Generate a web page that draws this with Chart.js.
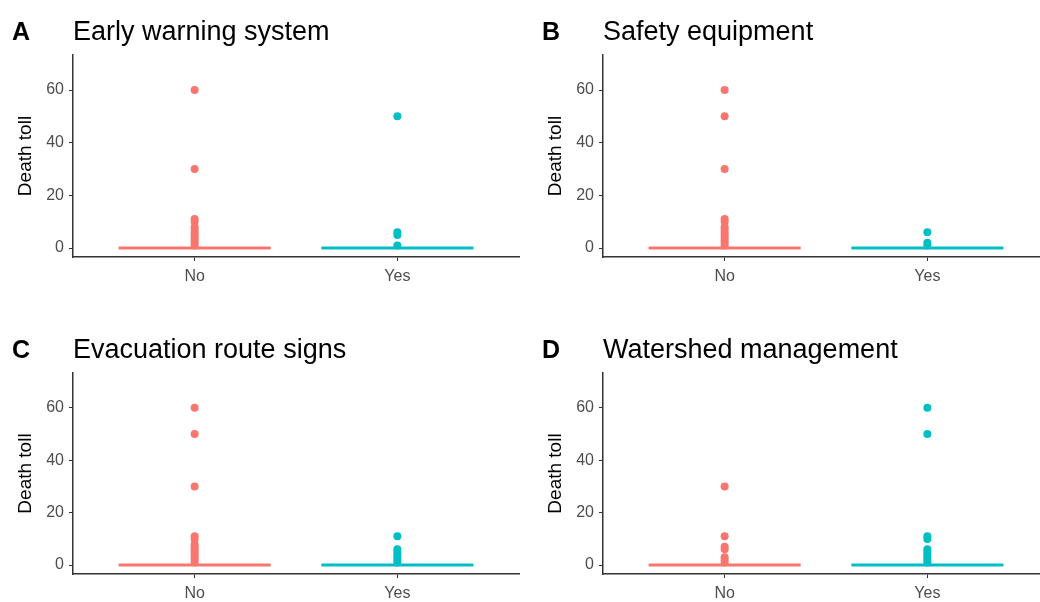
<!DOCTYPE html>
<html>
<head>
<meta charset="utf-8">
<script src="https://cdn.jsdelivr.net/npm/chart.js@4.4.1/dist/chart.umd.min.js"></script>
<style>
  html, body { margin:0; padding:0; background:#fff; }
  body { width:1040px; height:602px; position:relative; overflow:hidden; font-family:"Liberation Sans", Arial, sans-serif; }
  .panel { position:absolute; }
  .letter { position:absolute; font-weight:bold; font-size:25px; line-height:30px; color:#000; }
  .ptitle { position:absolute; font-size:27px; line-height:30px; color:#000; white-space:nowrap; }
  canvas { position:absolute; left:0; top:0; }
</style>
</head>
<body>
<script>
// ---- data ----
const categories = ["No", "Yes"];
const panelLetters = ["A", "B", "C", "D"];
const panelTitles = ["Early warning system", "Safety equipment", "Evacuation route signs", "Watershed management"];
const yTicks = [0, 20, 40, 60];
const yLabel = "Death toll";

// box (median / quartiles collapse to 0 in every group)
const medianNo  = [0, 0, 0, 0];
const medianYes = [0, 0, 0, 0];

// outlier points per panel
const earlyWarningNo  = [60, 30, 11, 10, 8, 7, 6, 5, 4, 3, 2, 1];
const earlyWarningYes = [50, 6, 5, 1];
const safetyEquipNo   = [60, 50, 30, 11, 10, 8, 7, 6, 5, 4, 3, 2, 1];
const safetyEquipYes  = [6, 2, 1];
const evacSignsNo     = [60, 50, 30, 11, 10, 8, 7, 6, 5, 4, 3, 2, 1];
const evacSignsYes    = [11, 6, 5, 4, 3, 2, 1];
const watershedNo     = [30, 11, 7, 6, 3, 2, 1];
const watershedYes    = [60, 50, 11, 10, 6, 5, 4, 3, 2, 1];

const outliersNo  = [earlyWarningNo, safetyEquipNo, evacSignsNo, watershedNo];
const outliersYes = [earlyWarningYes, safetyEquipYes, evacSignsYes, watershedYes];

// ---- layout / style ----
const colNo = "#F8766D", colYes = "#00BFC4";
const FONT = "Liberation Sans, Arial, sans-serif";
const panels = [
  { left: 0,   top: 0,   width: 523, height: 301, xH: 44 },
  { left: 530, top: 0,   width: 523, height: 301, xH: 44 },
  { left: 0,   top: 318, width: 523, height: 284, xH: 28 },
  { left: 530, top: 318, width: 523, height: 284, xH: 28 }
];

panels.forEach((p, i) => {
  const div = document.createElement("div");
  div.className = "panel";
  div.style.left = p.left + "px"; div.style.top = p.top + "px";
  div.style.width = p.width + "px"; div.style.height = p.height + "px";
  document.body.appendChild(div);

  const cv = document.createElement("canvas");
  cv.width = p.width; cv.height = p.height;
  cv.style.width = p.width + "px"; cv.style.height = p.height + "px";
  div.appendChild(cv);

  const L = document.createElement("div");
  L.className = "letter"; L.textContent = panelLetters[i];
  L.style.left = "12px"; L.style.top = "16px";
  div.appendChild(L);
  const T = document.createElement("div");
  T.className = "ptitle"; T.textContent = panelTitles[i];
  T.style.left = "73px"; T.style.top = "16px";
  div.appendChild(T);

  const hw = 0.375;
  const datasets = [
    { type: "line", data: [{x: 1 - hw, y: medianNo[i]}, {x: 1 + hw, y: medianNo[i]}],
      borderColor: colNo, borderWidth: 3, pointRadius: 0, borderCapStyle: "butt" },
    { type: "line", data: [{x: 2 - hw, y: medianYes[i]}, {x: 2 + hw, y: medianYes[i]}],
      borderColor: colYes, borderWidth: 3, pointRadius: 0, borderCapStyle: "butt" },
    { type: "scatter", data: outliersNo[i].map(v => ({x: 1, y: v})),
      backgroundColor: colNo, borderColor: colNo, pointRadius: 4, pointBorderWidth: 0, pointHoverRadius: 4 },
    { type: "scatter", data: outliersYes[i].map(v => ({x: 2, y: v})),
      backgroundColor: colYes, borderColor: colYes, pointRadius: 4, pointBorderWidth: 0, pointHoverRadius: 4 }
  ];

  new Chart(cv, {
    data: { datasets },
    options: {
      responsive: false, animation: false,
      layout: { padding: { left: 0, top: 55, right: 0, bottom: 0 } },
      plugins: { legend: { display: false }, tooltip: { enabled: false }, title: { display: false } },
      scales: {
        x: {
          type: "linear", min: 0.4, max: 2.6,
          afterBuildTicks: s => { s.ticks = categories.map((c, k) => ({ value: k + 1 })); },
          afterFit: s => { s.height = p.xH; },
          ticks: { callback: v => categories[v - 1], color: "#4D4D4D", font: { size: 16, family: FONT }, padding: 6, maxRotation: 0 },
          grid: { display: true, drawOnChartArea: false, drawTicks: true, tickLength: 4, color: "#333333", lineWidth: 1 },
          border: { display: true, color: "#333333", width: 1.5 }
        },
        y: {
          type: "linear", min: -3.4, max: 73.3,
          afterBuildTicks: s => { s.ticks = yTicks.map(v => ({ value: v })); },
          afterFit: s => { s.width = 73; },
          ticks: { color: "#4D4D4D", font: { size: 16, family: FONT }, padding: 5 },
          grid: { display: true, drawOnChartArea: false, drawTicks: true, tickLength: 4, color: "#333333", lineWidth: 1 },
          border: { display: true, color: "#333333", width: 1.5 },
          title: { display: true, text: yLabel, color: "#000", font: { size: 19, family: FONT }, padding: { top: 14, bottom: 0 } }
        }
      }
    }
  });
});
</script>
</body>
</html>
